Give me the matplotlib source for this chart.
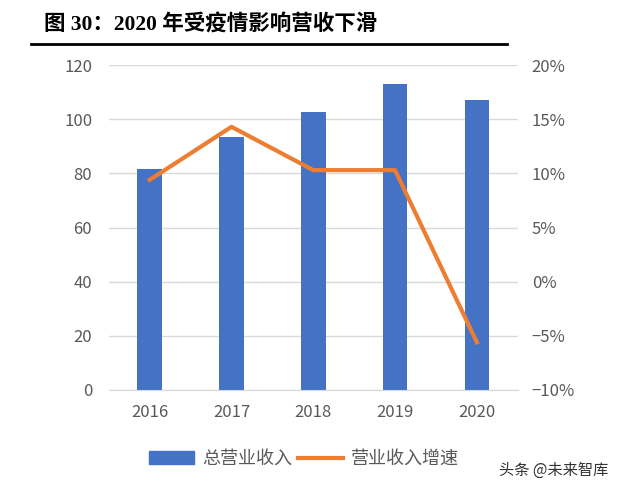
import numpy as np
import matplotlib.pyplot as plt
from matplotlib.lines import Line2D

plt.rcParams['font.family'] = ['Noto Sans CJK SC', 'DejaVu Sans']

# data
years = ['2016', '2017', '2018', '2019', '2020']
revenue = [81.6, 93.4, 102.7, 113.0, 107.0]        # 总营业收入
growth = [9.4, 14.3, 10.3, 10.3, -5.6]             # 营业收入增速 (%)

blue = '#4472c4'
orange = '#ed7d31'
grey = '#595959'

fig = plt.figure(figsize=(6.4, 4.93), dpi=100)
ax = fig.add_axes([0.170, 0.209, 0.639, 0.659])
x = np.arange(len(years))

ax.bar(x, revenue, width=0.3, color=blue, zorder=2)
ax.set_xlim(-0.5, 4.5)
ax.set_ylim(0, 120)
ax.set_yticks(range(0, 121, 20))
ax.set_xticks(x)
ax.set_xticklabels(years)
ax.grid(axis='y', color='#d9d9d9', linewidth=1, zorder=0)
ax.set_axisbelow(True)
for s in ['top', 'left', 'right']:
    ax.spines[s].set_visible(False)
ax.spines['bottom'].set_color('#d9d9d9')
ax.tick_params(axis='both', length=0, labelsize=12, colors=grey)
ax.tick_params(axis='x', pad=10)
ax.tick_params(axis='y', pad=12)

ax2 = ax.twinx()
ax2.plot(x, growth, color=orange, linewidth=3, zorder=3)
ax2.set_ylim(-10, 20)
ax2.set_yticks(range(-10, 21, 5))
ax2.set_yticklabels([f'{v}%'.replace('-', '\u2212') for v in range(-10, 21, 5)])
for s in ax2.spines.values():
    s.set_visible(False)
ax2.tick_params(axis='y', length=0, labelsize=12, colors=grey, pad=10)

# title + rule
fig.text(0.068, 0.949, '图 30：2020 年受疫情影响营收下滑', fontsize=15.5, fontweight='bold',
         family=['Liberation Serif', 'Noto Sans CJK SC'], color='black', va='center')
fig.add_artist(Line2D([0.049, 0.792], [0.911, 0.911], color='black', linewidth=2))

# legend
handles = [plt.Rectangle((0, 0), 1, 1, color=blue),
           Line2D([], [], color=orange, linewidth=3)]
fig.legend(handles, ['总营业收入', '营业收入增速'], loc='center', bbox_to_anchor=(0.475, 0.069),
           ncol=2, frameon=False, fontsize=13, labelcolor=grey, handlelength=2.5,
           columnspacing=0.3, handletextpad=0.45)

fig.text(0.865, 0.047, '头条 @未来智库', fontsize=11, color='#333333', va='center', ha='center')

fig.savefig('out.png', dpi=100)
